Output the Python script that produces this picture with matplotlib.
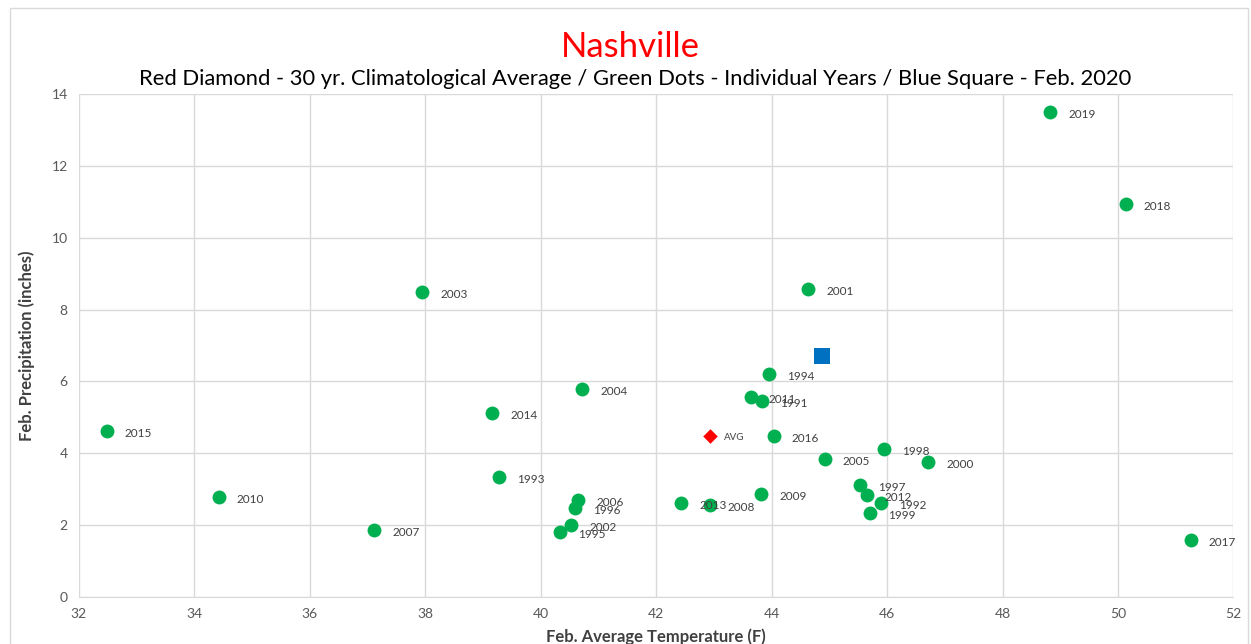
import matplotlib.pyplot as plt
from matplotlib.patches import Rectangle

# --- Data ---
years = ['2019', '2018', '2003', '2001', '1994', '2004', '2011', '1991', '2014', '2015',
         '2016', '1998', '2005', '2000', '1993', '1997', '2012', '1992', '1999', '2009',
         '2010', '2006', '1996', '2013', '2008', '2002', '1995', '2007', '2017']
temps = [48.83, 50.13, 37.95, 44.63, 43.95, 40.72, 43.64, 43.83, 39.16, 32.48,
         44.04, 45.94, 44.92, 46.71, 39.28, 45.53, 45.65, 45.89, 45.70, 43.82,
         34.42, 40.65, 40.60, 42.43, 42.93, 40.53, 40.34, 37.12, 51.26]
precip = [13.51, 10.95, 8.50, 8.58, 6.21, 5.79, 5.57, 5.46, 5.13, 4.62,
          4.48, 4.12, 3.84, 3.76, 3.34, 3.12, 2.84, 2.62, 2.34, 2.87,
          2.79, 2.70, 2.48, 2.62, 2.56, 2.01, 1.81, 1.87, 1.59]
avg_temp, avg_precip = 42.93, 4.48
feb2020_temp, feb2020_precip = 44.87, 6.71

plt.rcParams['font.family'] = ['Lato', 'DejaVu Sans']

fig = plt.figure(figsize=(12.51, 6.44), dpi=100)
ax = fig.add_axes([0.063, 0.073, 0.923, 0.781])

# chart border
fig.patches.append(Rectangle((0.008, -0.01), 0.99, 0.997, transform=fig.transFigure,
                             fill=False, edgecolor='#d9d9d9', linewidth=1))

ax.scatter(temps, precip, s=100, color='#00B050', zorder=3, linewidths=0)
ax.scatter([avg_temp], [avg_precip], s=55, marker='D', color='#FF0000', zorder=3, linewidths=0)
ax.scatter([feb2020_temp], [feb2020_precip], s=120, marker='s', color='#0070C0', zorder=3, linewidths=0)

for yr, t, p in zip(years, temps, precip):
    ax.annotate(yr, (t, p), xytext=(13, -2), textcoords='offset points',
                fontsize=8.5, color='#404040', va='center')
ax.annotate('AVG', (avg_temp, avg_precip), xytext=(10, -1), textcoords='offset points',
            fontsize=7, color='#404040', va='center')

ax.set_xlim(32, 52)
ax.set_ylim(0, 14)
ax.set_xticks(range(32, 53, 2))
ax.set_yticks(range(0, 15, 2))
ax.grid(True, color='#d9d9d9', linewidth=1)
ax.set_axisbelow(True)
for s in ['top', 'right', 'left']:
    ax.spines[s].set_visible(False)
ax.spines['bottom'].set_color('#d9d9d9')
ax.tick_params(length=0, labelsize=10, colors='#595959', pad=8)

ax.set_xlabel('Feb. Average Temperature (F)', fontsize=12, fontweight='bold', color='#404040', labelpad=6)
ax.set_ylabel('Feb. Precipitation (inches)', fontsize=12, fontweight='bold', color='#404040', labelpad=12)

fig.text(0.504, 0.927, 'Nashville', ha='center', va='center', fontsize=25, color='#FF0000')
fig.text(0.508, 0.878, 'Red Diamond - 30 yr. Climatological Average / Green Dots - Individual Years / Blue Square - Feb. 2020',
         ha='center', va='center', fontsize=15.8, color='#000000')

fig.savefig('out.png', dpi=100)
